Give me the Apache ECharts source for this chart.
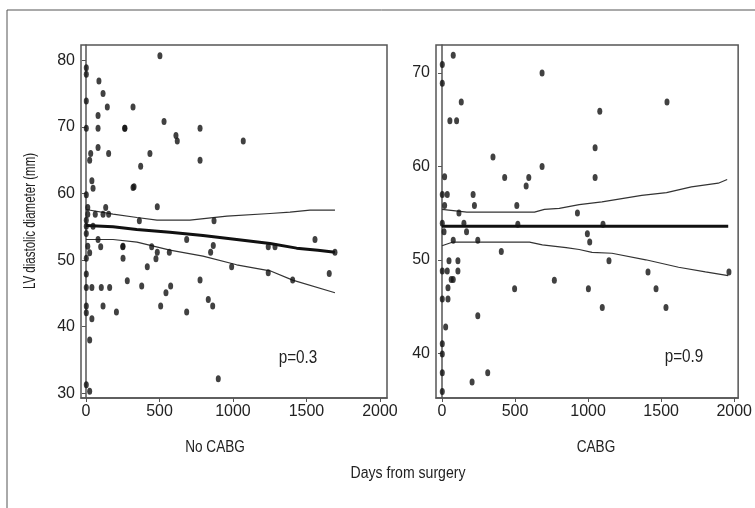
<!DOCTYPE html>
<html>
<head>
<meta charset="utf-8">
<script src="https://cdn.jsdelivr.net/npm/echarts@6/dist/echarts.min.js"></script>
<style>
html,body{margin:0;padding:0;background:#fff;}
#chart{width:755px;height:508px;}
</style>
</head>
<body>
<div id="chart"></div>
<script>
// ---- Data ----
const xTicks = [0, 500, 1000, 1500, 2000];
const yTicksLeft = [30, 40, 50, 60, 70, 80];
const yTicksRight = [40, 50, 60, 70];
const panelTitles = ['No CABG', 'CABG'];
const pValues = ['p=0.3', 'p=0.9'];

// No CABG scatter: [days, LV diameter]
const noCabgDays = [2,2,88,116,2,145,320,82,2,82,263,82,154,32,25,40,48,320,2,12,134,12,63,116,154,2,2,48,2,12,82,100,252,252,2,25,2,281,2,40,104,161,2,116,2,207,40,25,2,25,
  503,531,435,372,612,621,776,776,1070,485,327,265,363,871,685,866,848,1240,250,447,485,476,567,417,379,776,576,544,508,832,862,685,991,1240,900,1286,1558,1655,1694,1406];
const noCabgLV = [78.9,77.9,76.9,75.0,73.9,73.0,73.0,71.7,69.8,69.8,69.8,66.9,66.0,66.0,65.0,61.9,60.8,60.9,59.8,57.9,57.9,56.9,56.9,56.9,56.9,56.0,55.1,55.1,54.0,52.1,53.1,52.0,52.1,50.3,50.3,51.1,47.9,46.9,45.9,45.9,45.9,45.9,43.1,43.1,42.1,42.2,41.2,38.0,31.3,30.3,
  80.7,70.8,66.0,64.1,68.7,67.9,69.8,65.0,67.9,58.0,61.0,69.8,55.9,55.9,53.1,52.2,51.2,52.0,52.0,52.0,51.2,50.2,51.2,49.0,46.1,47.0,46.1,45.1,43.1,44.1,43.1,42.2,49.0,48.1,32.2,52.0,53.1,48.0,51.2,47.0];

// CABG scatter: [days, LV diameter]
const cabgDays = [2,77,2,132,54,100,349,18,2,36,213,18,222,116,2,150,14,168,77,245,48,109,2,36,109,63,77,41,2,41,245,25,2,2,2,313,206,2,
  429,594,576,512,685,685,927,1048,1048,1080,1540,406,497,769,1002,995,1011,519,1102,1143,1410,1465,1097,1533,1964];
const cabgLV = [70.9,71.9,68.9,66.9,64.9,64.9,61.0,58.9,57.0,57.0,57.0,55.8,55.8,55.0,53.9,53.9,53.0,53.0,52.1,52.1,49.9,49.9,48.8,48.8,48.8,47.9,47.9,47.0,45.8,45.8,44.0,42.8,41.0,39.9,37.9,37.9,36.9,35.9,
  58.8,58.8,57.9,55.8,70.0,60.0,55.0,62.0,58.8,65.9,66.9,50.9,46.9,47.8,46.9,52.8,51.9,53.8,53.8,49.9,48.7,46.9,44.9,44.9,48.7];

// Fitted lines and confidence bands
const noCabgFitDays = [0,184,345,571,796,1025,1252,1433,1578,1694];
const noCabgFit     = [55.2,55.0,54.6,54.2,53.7,53.1,52.5,51.8,51.5,51.2];
const noCabgUpDays  = [0,184,347,483,707,959,1252,1388,1524,1694];
const noCabgUp      = [57.6,56.9,56.4,56.0,56.0,56.6,57.0,57.2,57.5,57.5];
const noCabgLoDays  = [0,184,347,571,796,1025,1252,1406,1694];
const noCabgLo      = [53.1,53.1,52.7,51.5,50.6,49.3,48.4,47.0,45.1];

const cabgFitDays = [0,1959];
const cabgFit     = [53.6,53.6];
const cabgUpDays  = [0,170,633,701,803,939,1095,1367,1537,1707,1891,1952];
const cabgUp      = [55.4,55.1,55.1,55.4,55.5,55.9,56.2,56.9,57.2,57.8,58.2,58.6];
const cabgLoDays  = [0,75,599,687,850,939,1027,1163,1395,1619,1803,1959];
const cabgLo      = [51.5,51.9,51.9,51.6,51.3,51.1,50.8,50.7,50.0,49.2,48.7,48.3];

// ---- Build chart ----
const zip = (a, b) => a.map((v, i) => [v, b[i]]);
const FONT = "'Liberation Sans', Arial, sans-serif";
const AX = '#555';
const TXT = '#222';

function xAxisDef(gi, min, max) {
  return {
    type: 'value', gridIndex: gi, min: min, max: max,
    axisLine: {show: true, lineStyle: {color: AX, width: 1.5}},
    axisTick: {show: true, length: 4, lineStyle: {color: AX}, customValues: xTicks},
    axisLabel: {color: TXT, fontFamily: FONT, fontSize: 16, margin: 6, customValues: xTicks,
      formatter: v => String(v)},
    splitLine: {show: false}
  };
}
function yAxisDef(gi, min, max, ticks) {
  return {
    type: 'value', gridIndex: gi, min: min, max: max,
    axisLine: {show: true, lineStyle: {color: AX, width: 1.5}},
    axisTick: {show: true, length: 4, lineStyle: {color: AX}, customValues: ticks},
    axisLabel: {color: TXT, fontFamily: FONT, fontSize: 16, margin: 6, customValues: ticks,
      formatter: v => String(v)},
    splitLine: {show: false}
  };
}
function scatter(gi, d, v) {
  return {type: 'scatter', xAxisIndex: gi, yAxisIndex: gi, data: zip(d, v),
    symbol: 'circle', symbolSize: [5, 7], itemStyle: {color: '#111'}, silent: true, z: 3};
}
function line(gi, d, v, w, c) {
  return {type: 'line', xAxisIndex: gi, yAxisIndex: gi, data: zip(d, v), showSymbol: false,
    lineStyle: {color: c, width: w}, silent: true, z: 2, animation: false};
}
// condensed look: horizontal squeeze of the text
function label(x, y, text, size, sq, rot) {
  return {type: 'text', x: x, y: y, rotation: rot || 0, scaleX: sq,
    style: {text: text, fill: TXT, font: size + 'px ' + FONT, align: 'center', verticalAlign: 'middle'}};
}

const chart = echarts.init(document.getElementById('chart'), null, {renderer: 'canvas'});
chart.setOption({
  animation: false,
  backgroundColor: '#fff',
  grid: [
    {left: 81, top: 45, width: 306, height: 353, show: true, borderColor: AX, borderWidth: 1.5, backgroundColor: 'transparent'},
    {left: 436, top: 45, width: 304, height: 353, show: true, borderColor: AX, borderWidth: 1.5, backgroundColor: 'transparent'}
  ],
  xAxis: [xAxisDef(0, -34, 2048), xAxisDef(1, -41, 2027)],
  yAxis: [yAxisDef(0, 29.3, 82.3, yTicksLeft), yAxisDef(1, 35.2, 73.0, yTicksRight)],
  series: [
    scatter(0, noCabgDays, noCabgLV),
    line(0, noCabgUpDays, noCabgUp, 1.2, '#333'),
    line(0, noCabgLoDays, noCabgLo, 1.2, '#333'),
    line(0, noCabgFitDays, noCabgFit, 3, '#111'),
    scatter(1, cabgDays, cabgLV),
    line(1, cabgUpDays, cabgUp, 1.2, '#333'),
    line(1, cabgLoDays, cabgLo, 1.2, '#333'),
    line(1, cabgFitDays, cabgFit, 3, '#111')
  ],
  graphic: [
    {type: 'rect', shape: {x: 7, y: 10, width: 800, height: 600}, style: {fill: 'none', stroke: '#555', lineWidth: 1}, silent: true, z: -1},
    label(31, 221, 'LV diastolic diameter (mm)', 16, 0.72, Math.PI / 2),
    label(215, 448, panelTitles[0], 16, 0.85),
    label(596, 448, panelTitles[1], 16, 0.85),
    label(408, 474, 'Days from surgery', 16, 0.88),
    label(298, 358, pValues[0], 18, 0.85),
    label(684, 357, pValues[1], 18, 0.85)
  ]
});
</script>
</body>
</html>
